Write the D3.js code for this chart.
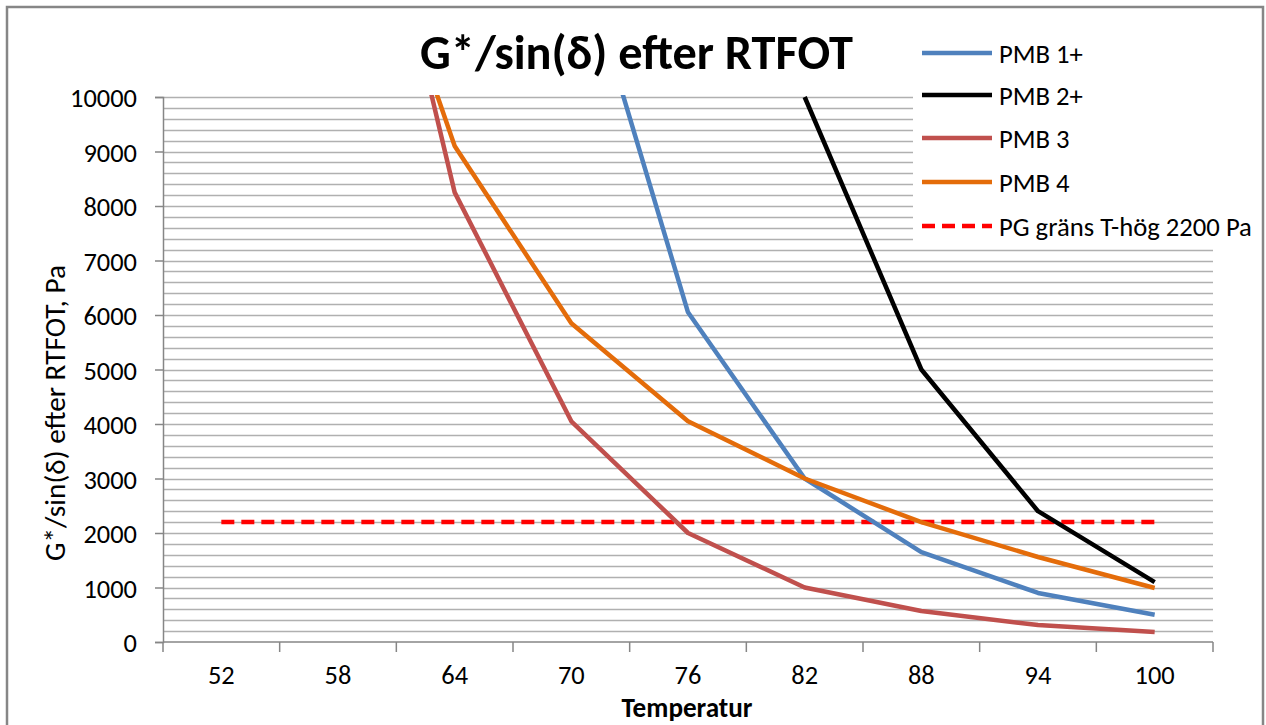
<!DOCTYPE html>
<html><head><meta charset="utf-8">
<script src="https://cdn.jsdelivr.net/npm/d3@7"></script>
<style>
html,body{margin:0;padding:0;background:#fff;}
svg{display:block;}
text{font-family:Carlito, Lato, "Open Sans", sans-serif;fill:#000;}
</style></head>
<body>
<svg id="c" width="1266" height="725"></svg>
<script>
const categories = [52, 58, 64, 70, 76, 82, 88, 94, 100];
const pmb1 = [null, null, null, 13200, 6050, 3000, 1650, 900, 500];
const pmb2 = [null, null, null, null, null, 10000, 5000, 2400, 1100];
const pmb3 = [null, 17250, 8250, 4050, 2000, 1000, 570, 310, 185];
const pmb4 = [null, 15300, 9100, 5850, 4050, 3000, 2200, 1560, 990];
const limit = [2200, 2200, 2200, 2200, 2200, 2200, 2200, 2200, 2200];
const yTicks = [0, 1000, 2000, 3000, 4000, 5000, 6000, 7000, 8000, 9000, 10000];
const seriesNames = ["PMB 1+", "PMB 2+", "PMB 3", "PMB 4", "PG gräns T-hög 2200 Pa"];
const seriesColors = ["#4F81BD", "#000000", "#C0504D", "#E46C0A", "#FF0000"];
const title = "G*/sin(δ) efter RTFOT";
const yTitle = "G*/sin(δ) efter RTFOT, Pa";
const xTitle = "Temperatur";

const svg = d3.select("#c");
const L = 163, R = 1213, T = 97, B = 642;

const x = d3.scaleBand().domain(categories).range([L, R]).padding(0);
const y = d3.scaleLinear().domain([0, 10000]).range([B, T]);
const cx = c => x(c) + x.bandwidth() / 2;

function fit(sel, target) {
  const fs = parseFloat(sel.attr("font-size"));
  const w = sel.node().getComputedTextLength();
  sel.attr("font-size", (fs * target / w).toFixed(2));
}

// outer frame
svg.append("rect").attr("x", 7).attr("y", 7).attr("width", 1256).attr("height", 740)
  .attr("fill", "#fff").attr("stroke", "#868686").attr("stroke-width", 2.5);

// gridlines every 200
const grid = d3.range(200, 10001, 200);
svg.append("g").selectAll("line").data(grid).join("line")
  .attr("x1", L).attr("x2", R)
  .attr("y1", d => Math.round(y(d)) + 0.5).attr("y2", d => Math.round(y(d)) + 0.5)
  .attr("stroke", "#b0b0b0").attr("stroke-width", 1.3);

// legend background box covering gridlines
svg.append("rect").attr("x", 913).attr("y", 20).attr("width", 348).attr("height", 226).attr("fill", "#fff");

// y axis
const yAxis = svg.append("g").attr("transform", `translate(${L},0)`)
  .call(d3.axisLeft(y).tickValues(yTicks).tickSize(8).tickPadding(18).tickFormat(d3.format("d")));
yAxis.select(".domain").attr("stroke", "#868686").attr("stroke-width", 1.5);
yAxis.selectAll(".tick line").attr("stroke", "#868686").attr("stroke-width", 1.5);
yAxis.selectAll(".tick text").attr("font-size", 23).attr("font-family", null).attr("fill", "#000").attr("dy", "0.36em");
{
  const t = yAxis.selectAll(".tick text").filter(d => d === 10000);
  const fs = 23, w = t.node().getComputedTextLength();
  yAxis.selectAll(".tick text").attr("font-size", (fs * 67 / w).toFixed(2));
}

// x axis
const xg = svg.append("g");
xg.append("line").attr("x1", L).attr("x2", R).attr("y1", B).attr("y2", B)
  .attr("stroke", "#868686").attr("stroke-width", 1.5);
const bounds = categories.map(c => x(c)).concat([x(categories[categories.length - 1]) + x.bandwidth()]);
xg.selectAll("line.tk").data(bounds).join("line").attr("class", "tk")
  .attr("x1", d => d).attr("x2", d => d).attr("y1", B).attr("y2", B + 10)
  .attr("stroke", "#868686").attr("stroke-width", 1.5);
xg.selectAll("text").data(categories).join("text")
  .attr("x", d => cx(d)).attr("y", 684).attr("text-anchor", "middle")
  .attr("font-size", yAxis.select(".tick text").attr("font-size"))
  .text(d => d);

// clip
svg.append("clipPath").attr("id", "clip").append("rect")
  .attr("x", L).attr("y", T - 2).attr("width", R - L).attr("height", B - T + 4);

const line = d3.line().defined(d => d.v != null).x(d => cx(d.c)).y(d => y(d.v));
const allSeries = [pmb1, pmb2, pmb3, pmb4];
const lg = svg.append("g").attr("clip-path", "url(#clip)");
lg.append("path").datum(limit.map((v, i) => ({c: categories[i], v})))
  .attr("d", line).attr("fill", "none").attr("stroke", seriesColors[4])
  .attr("stroke-width", 4.5).attr("stroke-dasharray", "13,7");
allSeries.forEach((s, i) => {
  lg.append("path").datum(s.map((v, j) => ({c: categories[j], v})))
    .attr("d", line).attr("fill", "none").attr("stroke", seriesColors[i])
    .attr("stroke-width", 4.5).attr("stroke-linejoin", "round");
});

// legend
const legY = [53, 95, 138, 182, 226];
seriesNames.forEach((n, i) => {
  const g = svg.append("g");
  g.append("line").attr("x1", 922).attr("x2", 992).attr("y1", legY[i]).attr("y2", legY[i])
    .attr("stroke", seriesColors[i]).attr("stroke-width", 4.5)
    .attr("stroke-dasharray", i === 4 ? "13,7" : null);
  g.append("text").attr("class", "leg").attr("x", 999).attr("y", legY[i]).attr("dy", "0.36em")
    .attr("font-size", 22).text(n);
});
{
  const t = svg.selectAll("text.leg").filter((d, i) => i === 4);
  const w = t.node().getComputedTextLength();
  svg.selectAll("text.leg").attr("font-size", (22 * 253 / w).toFixed(2));
}

// title
const tt = svg.append("text").attr("x", 636.5).attr("y", 69).attr("text-anchor", "middle")
  .attr("font-weight", "bold").attr("font-size", 38).text(title);
fit(tt, 433);

// x title
const xt = svg.append("text").attr("x", 687).attr("y", 717).attr("text-anchor", "middle")
  .attr("font-weight", "bold").attr("font-size", 22).text(xTitle);
fit(xt, 131);

// y title
const yt = svg.append("text").attr("transform", "translate(65,413) rotate(-90)")
  .attr("text-anchor", "middle").attr("font-size", 22).text(yTitle);
fit(yt, 296);
</script>
</body></html>
